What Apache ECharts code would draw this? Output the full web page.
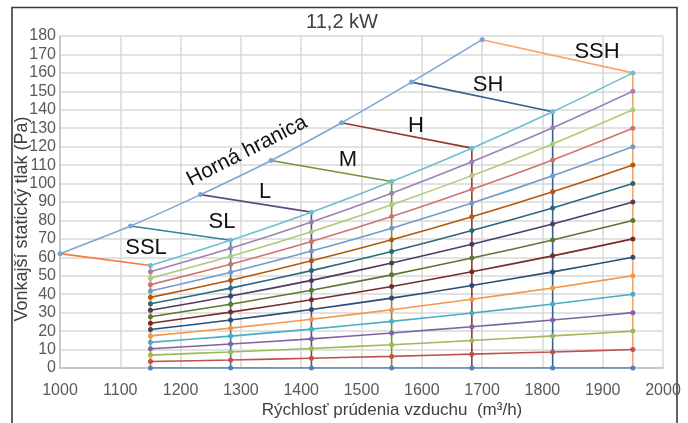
<!DOCTYPE html>
<html>
<head>
<meta charset="utf-8">
<script src="https://cdn.jsdelivr.net/npm/echarts@6/dist/echarts.min.js"></script>
<style>html,body{margin:0;padding:0;background:#fff}#c{width:688px;height:423px}</style>
</head>
<body>
<div id="c"></div>
<script>
// ---- data ----
const title = '11,2 kW';
const xName = 'Rýchlosť prúdenia vzduchu  (m³/h)';
const yName = 'Vonkajší statický tlak (Pa)';
const flow = [1150, 1283, 1417, 1550, 1683, 1817, 1950];
const c000 = [0, 0, 0, 0, 0, 0, 0];
const c010 = [3.5, 4.3, 5.3, 6.3, 7.5, 8.7, 10];
const c020 = [7.0, 8.7, 10.6, 12.6, 14.9, 17.4, 20];
const c030 = [10.4, 13.0, 15.8, 19.0, 22.4, 26.0, 30];
const c040 = [13.9, 17.3, 21.1, 25.3, 29.8, 34.7, 40];
const c050 = [17.4, 21.6, 26.4, 31.6, 37.3, 43.4, 50];
const c060 = [20.9, 26.0, 31.7, 37.9, 44.7, 52.1, 60];
const c070 = [24.3, 30.3, 37.0, 44.2, 52.2, 60.8, 70];
const c080 = [27.8, 34.6, 42.2, 50.5, 59.6, 69.4, 80];
const c090 = [31.3, 39.0, 47.5, 56.9, 67.1, 78.1, 90];
const c100 = [34.8, 43.3, 52.8, 63.2, 74.5, 86.8, 100];
const c110 = [38.3, 47.6, 58.1, 69.5, 82.0, 95.5, 110];
const c120 = [41.7, 51.9, 63.4, 75.8, 89.4, 104.2, 120];
const c130 = [45.2, 56.3, 68.6, 82.1, 96.9, 112.8, 130];
const c140 = [48.7, 60.6, 73.9, 88.5, 104.3, 121.5, 140];
const c150 = [52.2, 64.9, 79.2, 94.8, 111.8, 130.2, 150];
const c160 = [55.6, 69.3, 84.5, 101.1, 119.2, 138.9, 160];
const limitFlow = [1000, 1117, 1233, 1350, 1467, 1583, 1700];
const limitPa = [62, 77, 94, 112.5, 133, 155, 178];
const modeNames = ['SSL', 'SL', 'L', 'M', 'H', 'SH', 'SSH'];
const limitName = 'Horná hranica';

// ---- styles ----
const curveColors = ['#4F81BD','#C0504D','#9BBB59','#8064A2','#4BACC6','#F79646',
  '#2C4D75','#772C2A','#5F7530','#4D3B62','#276A7C','#B65708',
  '#729ACA','#CD7371','#AFC97A','#9983B5','#6FBDD1'];
const modeColors = ['#F47A3A','#31849B','#604A7B','#77933C','#953735','#376092','#F9A46B'];
const limitColor = '#7EA6D4';

const curves = [c000,c010,c020,c030,c040,c050,c060,c070,c080,c090,c100,c110,c120,c130,c140,c150,c160];
const series = [];
modeNames.forEach((n, i) => {
  series.push({
    name: n, type: 'line', z: 2, showSymbol: false, animation: false,
    lineStyle: { color: modeColors[i], width: 1.6 },
    data: [[limitFlow[i], limitPa[i]], [flow[i], c160[i]], [flow[i], 0]]
  });
});
series.push({
  name: limitName, type: 'line', z: 3, smooth: 0.25, symbol: 'circle', symbolSize: 5,
  itemStyle: { color: limitColor }, lineStyle: { color: limitColor, width: 1.6 },
  data: limitFlow.map((x, i) => [x, limitPa[i]])
});
curves.forEach((c, k) => {
  series.push({
    type: 'line', z: 4, smooth: 0.25, symbol: 'circle', symbolSize: 5,
    itemStyle: { color: curveColors[k] }, lineStyle: { color: curveColors[k], width: 1.6 },
    data: flow.map((x, i) => [x, c[i]])
  });
});

const FONT = '"Liberation Sans", Arial, sans-serif';
const lbl = (t, x, y) => ({ type: 'text', x: x, y: y, z: 100,
  style: { text: t, fill: '#111', font: '22px ' + FONT, textAlign: 'center', textVerticalAlign: 'middle' } });

const chart = echarts.init(document.getElementById('c'));
chart.setOption({
  animation: false,
  backgroundColor: '#fff',
  grid: { left: 60, right: 25, top: 36, bottom: 55 },
  xAxis: {
    type: 'value', min: 1000, max: 2000, interval: 100,
    axisLine: { show: true, lineStyle: { color: '#BFBFBF', width: 1.5 } },
    axisTick: { show: false },
    axisLabel: { color: '#595959', fontSize: 16, fontFamily: FONT, margin: 15, formatter: v => String(v) },
    splitLine: { show: true, lineStyle: { color: '#D9D9D9', width: 1.5 } }
  },
  yAxis: {
    type: 'value', min: 0, max: 180, interval: 10,
    axisLine: { show: true, lineStyle: { color: '#BFBFBF', width: 1.5 } },
    axisTick: { show: false },
    axisLabel: { color: '#595959', fontSize: 16, fontFamily: FONT, margin: 4, formatter: v => String(v) },
    splitLine: { show: true, lineStyle: { color: '#D9D9D9', width: 1.5 } }
  },
  series: series,
  graphic: [
    { type: 'rect', shape: { x: 12, y: 7.5, width: 665, height: 430 }, z: 0,
      style: { fill: 'none', stroke: '#3A3A3A', lineWidth: 1.6 } },
    { type: 'text', x: 342, y: 22, style: { text: title, fill: '#404040', font: '20px ' + FONT, textAlign: 'center', textVerticalAlign: 'middle' } },
    { type: 'text', x: 392, y: 410, style: { text: xName, fill: '#404040', font: '17px ' + FONT, textAlign: 'center', textVerticalAlign: 'middle' } },
    { type: 'text', x: 22, y: 219, rotation: Math.PI / 2, style: { text: yName, fill: '#404040', font: '18px ' + FONT, textAlign: 'center', textVerticalAlign: 'middle' } },
    lbl('SSL', 146, 248), lbl('SL', 222, 222), lbl('L', 265, 192), lbl('M', 348, 160),
    lbl('H', 416, 126), lbl('SH', 488, 85), lbl('SSH', 597, 52),
    { type: 'text', x: 247, y: 151, rotation: 27 * Math.PI / 180, z: 100,
      style: { text: limitName, fill: '#111', font: '21px ' + FONT, textAlign: 'center', textVerticalAlign: 'middle' } }
  ]
});
</script>
</body>
</html>
